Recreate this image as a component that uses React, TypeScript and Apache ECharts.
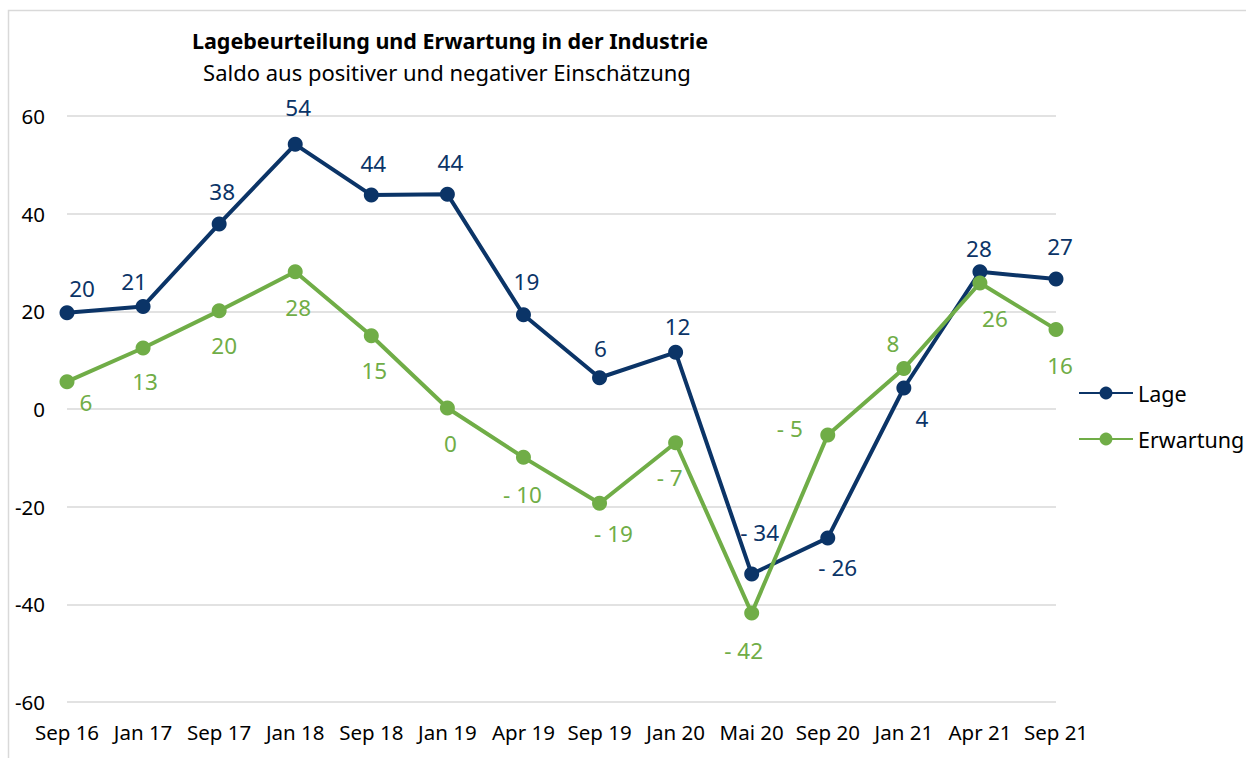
import React, { useEffect, useRef } from "react";
import * as echarts from "echarts";

const categories = ["Sep 16", "Jan 17", "Sep 17", "Jan 18", "Sep 18", "Jan 19", "Apr 19", "Sep 19", "Jan 20", "Mai 20", "Sep 20", "Jan 21", "Apr 21", "Sep 21"];
const lage = [19.7, 21.0, 37.9, 54.2, 43.8, 44.0, 19.3, 6.4, 11.6, -33.8, -26.4, 4.3, 28.1, 26.6];
const erwartung = [5.6, 12.5, 20.1, 28.1, 15.0, 0.2, -9.9, -19.3, -6.9, -41.8, -5.3, 8.3, 25.8, 16.3];
const yMin = -60;
const yMax = 60;
const yStep = 20;

const titleText = "Lagebeurteilung und Erwartung in der Industrie";
const subtitleText = "Saldo aus positiver und negativer Einschätzung";

// label placement (style only)
const lageLabelOffsets = [[15, -24], [-9, -25], [3, -32], [3, -37], [2, -32], [3, -32], [3, -33], [1, -29], [2, -26], [8, -42], [10, 30], [18, 30], [-1, -23], [4, -33]];
const erwLabelOffsets = [[19, 21], [2, 34], [5, 35], [3, 36], [3, 35], [3, 35], [-1, 37], [14, 30], [-6, 35], [-8, 37], [-38, -6], [-11, -25], [15, 35], [4, 36]];

const NAVY = "#0b3467";
const GREEN = "#70ad47";
const FONT = "Noto Sans";

const fmt = (v: number) => {
  const r = Math.round(v);
  return r < 0 ? "- " + Math.abs(r) : String(r);
};

const buildData = (vals: number[], offsets: number[][], color: string) =>
  vals.map((v, i) => ({
    value: v,
    label: {
      show: true,
      position: "inside",
      offset: offsets[i],
      color,
      fontFamily: FONT,
      fontSize: 22.5,
      formatter: () => fmt(v),
    },
  }));

export default function App() {
  const ref = useRef<HTMLDivElement>(null);
  useEffect(() => {
    if (!ref.current) return;
    const chart = echarts.init(ref.current, undefined, { renderer: "svg" });
    chart.setOption({
      animation: false,
      backgroundColor: "#ffffff",
      textStyle: { fontFamily: FONT },
      graphic: [
        {
          type: "rect",
          shape: { x: 8.5, y: 10.5, width: 1300, height: 800 },
          style: { fill: "none", stroke: "#d9d9d9", lineWidth: 1.5 },
          silent: true,
        },
        {
          type: "text",
          x: 450,
          y: 40,
          style: {
            text: titleText,
            fontFamily: FONT,
            fontSize: 21.5,
            fontWeight: "bold",
            fill: "#000",
            textAlign: "center",
            textVerticalAlign: "middle",
          },
        },
        {
          type: "text",
          x: 447,
          y: 72,
          style: {
            text: subtitleText,
            fontFamily: FONT,
            fontSize: 22,
            fill: "#000",
            textAlign: "center",
            textVerticalAlign: "middle",
          },
        },
      ],
      legend: {
        orient: "vertical",
        left: 1078,
        top: 382,
        padding: 0,
        itemWidth: 54,
        itemHeight: 16,
        itemGap: 24,
        textStyle: { fontFamily: FONT, fontSize: 21.5, color: "#000" },
        data: ["Lage", "Erwartung"],
      },
      grid: { left: 67, right: 190, top: 116, bottom: 56, containLabel: false },
      xAxis: {
        type: "category",
        data: categories,
        boundaryGap: false,
        axisLine: { show: false },
        axisTick: { show: false },
        axisLabel: { interval: 0, margin: 19, fontFamily: FONT, fontSize: 20.5, color: "#000" },
        splitLine: { show: false },
      },
      yAxis: {
        type: "value",
        min: yMin,
        max: yMax,
        interval: yStep,
        axisLine: { show: false },
        axisTick: { show: false },
        axisLabel: { margin: 22, fontFamily: FONT, fontSize: 20.5, color: "#000" },
        splitLine: { lineStyle: { color: "#d9d9d9", width: 1.5 } },
      },
      series: [
        {
          name: "Lage",
          type: "line",
          data: buildData(lage, lageLabelOffsets, NAVY),
          symbol: "circle",
          symbolSize: 15,
          itemStyle: { color: NAVY },
          lineStyle: { color: NAVY, width: 4 },
          z: 2,
        },
        {
          name: "Erwartung",
          type: "line",
          data: buildData(erwartung, erwLabelOffsets, GREEN),
          symbol: "circle",
          symbolSize: 15,
          itemStyle: { color: GREEN },
          lineStyle: { color: GREEN, width: 4 },
          z: 3,
        },
      ],
    });
    return () => chart.dispose();
  }, []);
  return (
    <div
      ref={ref}
      style={{ position: "absolute", left: 0, top: 0, width: 1246, height: 758 }}
    />
  );
}
